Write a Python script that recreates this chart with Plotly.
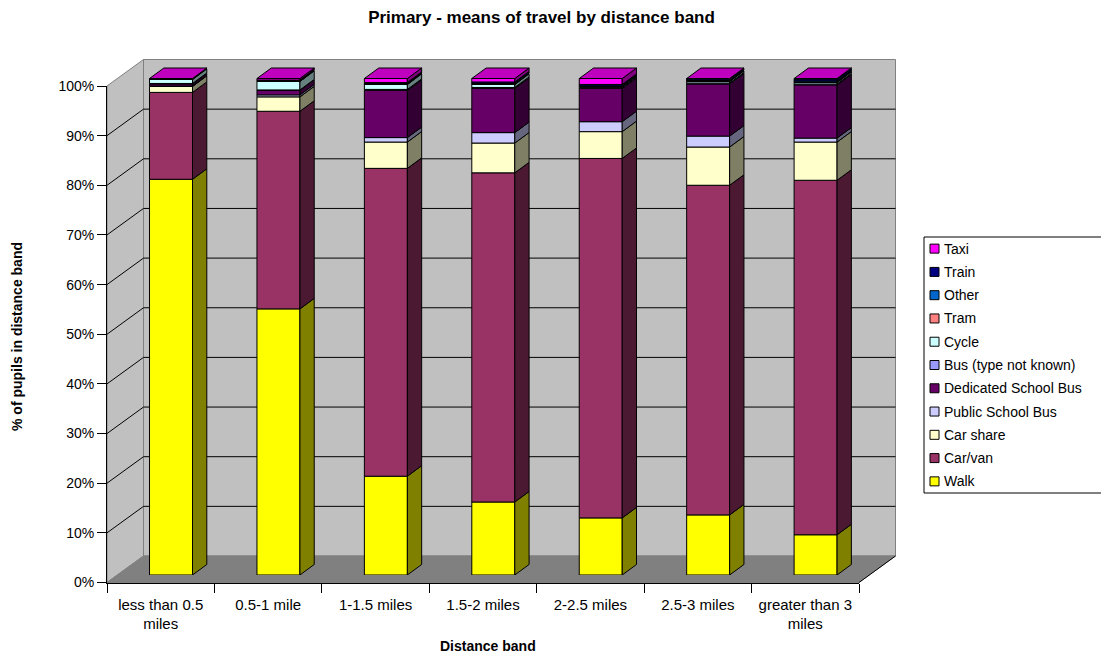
import plotly.graph_objects as go

# ---- data -------------------------------------------------------------
categories = ["less than 0.5 miles", "0.5-1 mile", "1-1.5 miles", "1.5-2 miles",
              "2-2.5 miles", "2.5-3 miles", "greater than 3 miles"]
tick_labels = ["less than 0.5<br>miles", "0.5-1 mile", "1-1.5 miles", "1.5-2 miles",
               "2-2.5 miles", "2.5-3 miles", "greater than 3<br>miles"]
y_ticks = [0, 10, 20, 30, 40, 50, 60, 70, 80, 90, 100]

walk = [79.7, 53.6, 19.9, 14.7, 11.5, 12.1, 8.1]
car_van = [17.5, 39.8, 62.0, 66.3, 72.4, 66.4, 71.4]
car_share = [1.2, 2.9, 5.3, 6.0, 5.4, 7.7, 7.7]
public_school_bus = [0.1, 0.4, 0.9, 2.1, 2.0, 2.2, 0.8]
dedicated_school_bus = [0.4, 0.9, 9.5, 8.9, 6.7, 10.5, 10.7]
bus_unknown = [0.1, 0.1, 0.2, 0.2, 0.2, 0.2, 0.2]
cycle = [0.8, 1.7, 1.0, 0.6, 0.2, 0.3, 0.3]
tram = [0.0, 0.1, 0.1, 0.1, 0.0, 0.1, 0.1]
other = [0.0, 0.1, 0.1, 0.1, 0.1, 0.1, 0.2]
train = [0.1, 0.1, 0.2, 0.3, 0.3, 0.3, 0.4]
taxi = [0.1, 0.3, 0.8, 0.7, 1.2, 0.1, 0.1]

series_names = ["Walk", "Car/van", "Car share", "Public School Bus", "Dedicated School Bus",
                "Bus (type not known)", "Cycle", "Tram", "Other", "Train", "Taxi"]
series_values = [walk, car_van, car_share, public_school_bus, dedicated_school_bus,
                 bus_unknown, cycle, tram, other, train, taxi]
series_colors = ["#FFFF00", "#993366", "#FFFFCC", "#CCCCFF", "#660066",
                 "#9999FF", "#CCFFFF", "#FF8080", "#0066CC", "#000080", "#FF00FF"]

# ---- geometry of the 3-D box (pixels) ---------------------------------
W, H = 1101, 654
FX0, FX1 = 107.0, 859.0          # front x-axis extent
FY0, FY100 = 582.5, 86.0         # front y-axis: 0% and 100%
BACK = (36.5, -26.5)             # offset of the back wall from the front plane
BAR_SHIFT = (10.3, -7.5)         # bars' front faces sit a little into the box
BAR_DEPTH = (14.3, -10.5)        # depth of each column
BAR_WIDTH = 0.4                  # in category units
Y2_MAX = 106                     # headroom for the column tops

n = len(categories)
px_per_cat = (FX1 - FX0) / n
px_per_pct = (FY0 - FY100) / 100.0


def px(x):
    return x / W


def py(y):
    return 1 - y / H


def shade(hex_color, f):
    r, g, b = (int(hex_color[i:i + 2], 16) for i in (1, 3, 5))
    return "#%02X%02X%02X" % (int(r * f), int(g * f), int(b * f))


def path(points):
    return "M " + " L ".join("%.5f,%.5f" % (px(x), py(y)) for x, y in points) + " Z"


def front_y(v):
    return FY0 - v * px_per_pct


fig = go.Figure()

# ---- walls and floor ----------------------------------------------------
shapes = []
bx, by = BACK
# back wall
shapes.append(dict(type="path", path=path([(FX0 + bx, front_y(0) + by), (FX1 + bx, front_y(0) + by),
                                           (FX1 + bx, front_y(100) + by), (FX0 + bx, front_y(100) + by)]),
                   fillcolor="#C0C0C0", line=dict(color="#808080", width=1)))
# left wall
shapes.append(dict(type="path", path=path([(FX0, front_y(0)), (FX0 + bx, front_y(0) + by),
                                           (FX0 + bx, front_y(100) + by), (FX0, front_y(100))]),
                   fillcolor="#C0C0C0", line=dict(color="#808080", width=1)))
# floor
shapes.append(dict(type="path", path=path([(FX0, FY0), (FX1, FY0), (FX1 + bx, FY0 + by), (FX0 + bx, FY0 + by)]),
                   fillcolor="#808080", line=dict(color="#808080", width=1)))
# right edge of the floor
shapes.append(dict(type="line", x0=px(FX1), y0=py(FY0), x1=px(FX1 + bx), y1=py(FY0 + by),
                   line=dict(color="black", width=1)))
# gridlines on the left and back walls
for v in y_ticks[1:-1]:
    yf = front_y(v)
    shapes.append(dict(type="line", x0=px(FX0), y0=py(yf), x1=px(FX0 + bx), y1=py(yf + by),
                       line=dict(color="black", width=1)))
    shapes.append(dict(type="line", x0=px(FX0 + bx), y0=py(yf + by), x1=px(FX1 + bx), y1=py(yf + by),
                       line=dict(color="black", width=1)))
for s in shapes:
    s.update(xref="paper", yref="paper", layer="below")

# ---- category axis (front) ------------------------------------------------
fig.add_trace(go.Scatter(x=tick_labels, y=[0] * n, mode="markers", marker=dict(opacity=0),
                         showlegend=False, hoverinfo="skip", xaxis="x", yaxis="y"))

# ---- stacked columns --------------------------------------------------------
xpos = list(range(n))
dx = BAR_DEPTH[0] / px_per_cat
dy = -BAR_DEPTH[1] / px_per_pct
half = BAR_WIDTH / 2

cum = [0.0] * n
side_polys = []
for name, vals, col in zip(series_names, series_values, series_colors):
    fig.add_trace(go.Bar(x=xpos, y=vals, base=cum[:], name=name, width=BAR_WIDTH,
                         marker=dict(color=col, line=dict(color="black", width=1)),
                         xaxis="x2", yaxis="y2", showlegend=False,
                         customdata=categories,
                         hovertemplate="%{customdata}<br>" + name + ": %{y:.1f}%<extra></extra>"))
    xs, ys = [], []
    for i in range(n):
        y0, y1 = cum[i], cum[i] + vals[i]
        if vals[i] > 0:
            xr = xpos[i] + half
            xs += [xr, xr + dx, xr + dx, xr, xr, None]
            ys += [y0, y0 + dy, y1 + dy, y1, y0, None]
        cum[i] = y1
    side_polys.append((xs, ys, shade(col, 0.5)))

for xs, ys, fc in side_polys:
    fig.add_trace(go.Scatter(x=xs, y=ys, mode="lines", fill="toself", fillcolor=fc,
                             line=dict(color="black", width=1), xaxis="x2", yaxis="y2",
                             showlegend=False, hoverinfo="skip"))

# top faces take the colour of the highest non-empty series
for i in range(n):
    top_col = next(c for v, c in zip(series_values[::-1], series_colors[::-1]) if v[i] > 0)
    xl, xr, t = xpos[i] - half, xpos[i] + half, cum[i]
    fig.add_trace(go.Scatter(x=[xl, xr, xr + dx, xl + dx, xl], y=[t, t, t + dy, t + dy, t],
                             mode="lines", fill="toself", fillcolor=shade(top_col, 0.75),
                             line=dict(color="black", width=1), xaxis="x2", yaxis="y2",
                             showlegend=False, hoverinfo="skip"))

# ---- legend --------------------------------------------------------------
LEG_X0, LEG_Y0, LEG_Y1 = 924, 237, 493
shapes.append(dict(type="rect", xref="paper", yref="paper", x0=px(LEG_X0), x1=px(W + 5),
                   y0=py(LEG_Y1), y1=py(LEG_Y0), line=dict(color="black", width=1),
                   fillcolor="white", layer="below"))
annotations = []
row = (LEG_Y1 - LEG_Y0) / len(series_names)
for k, (name, col) in enumerate(zip(series_names[::-1], series_colors[::-1])):
    yc = LEG_Y0 + row * (k + 0.5)
    shapes.append(dict(type="rect", xref="paper", yref="paper", x0=px(930), x1=px(939),
                       y0=py(yc + 4.5), y1=py(yc - 4.5), fillcolor=col,
                       line=dict(color="black", width=1), layer="above"))
    annotations.append(dict(text=name, x=px(942), y=py(yc), xref="paper", yref="paper",
                            xanchor="left", yanchor="middle", showarrow=False,
                            font=dict(size=14, color="black")))

# ---- axis titles ----------------------------------------------------------
annotations.append(dict(text="<b>% of pupils in distance band</b>", x=px(17), y=py(337),
                        xref="paper", yref="paper", textangle=-90, showarrow=False,
                        xanchor="center", yanchor="middle", font=dict(size=14, color="black")))
annotations.append(dict(text="<b>Distance band</b>", x=px(488), y=py(646),
                        xref="paper", yref="paper", showarrow=False,
                        xanchor="center", yanchor="middle", font=dict(size=14, color="black")))

# ---- layout -----------------------------------------------------------------
y2_zero = FY0 + BAR_SHIFT[1]
y2_top = y2_zero - Y2_MAX * px_per_pct

fig.update_layout(
    width=W, height=H,
    margin=dict(l=0, r=0, t=0, b=0, pad=0, autoexpand=False),
    paper_bgcolor="white", plot_bgcolor="rgba(0,0,0,0)",
    font=dict(family="Liberation Sans, Arial, sans-serif", size=14, color="black"),
    barmode="overlay", showlegend=False,
    title=dict(text="<b>Primary - means of travel by distance band</b>", x=px(541.5), y=py(17),
               xanchor="center", yanchor="middle", xref="paper", yref="container",
               font=dict(size=17, color="black")),
    xaxis=dict(type="category", domain=[px(FX0), px(FX1)], range=[-0.5, n - 0.5],
               categoryorder="array", categoryarray=tick_labels,
               tickson="boundaries", ticks="outside", ticklen=9, tickcolor="black",
               ticklabelstandoff=8,
               showline=True, linecolor="black", linewidth=1, showgrid=False, zeroline=False,
               tickfont=dict(size=15), anchor="y", fixedrange=True, automargin=False),
    yaxis=dict(domain=[py(FY0), py(FY100)], range=[0, 100], tickvals=y_ticks,
               ticktext=["%d%%" % v for v in y_ticks], ticks="outside", ticklen=9,
               tickcolor="black", showline=True, linecolor="black", linewidth=1,
               showgrid=False, zeroline=False, tickfont=dict(size=14), anchor="x",
               fixedrange=True, automargin=False),
    xaxis2=dict(domain=[px(FX0 + BAR_SHIFT[0]), px(FX1 + BAR_SHIFT[0])], range=[-0.5, n - 0.5],
                visible=False, anchor="y2", fixedrange=True),
    yaxis2=dict(domain=[py(y2_zero), py(y2_top)], range=[0, Y2_MAX], visible=False,
                anchor="x2", fixedrange=True),
    shapes=shapes, annotations=annotations,
)

fig.write_html("out.html")
